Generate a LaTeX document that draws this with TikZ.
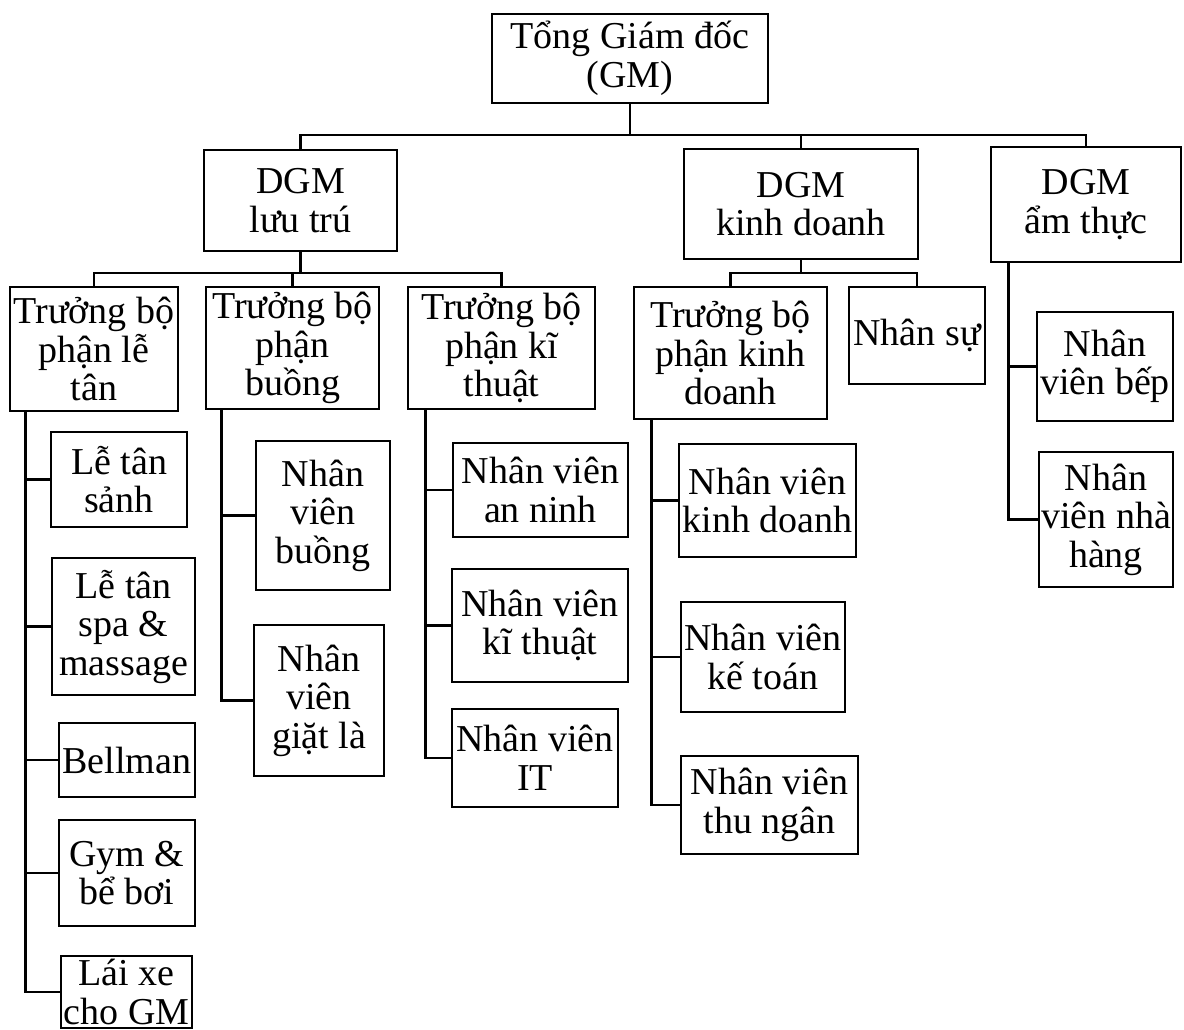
\documentclass[tikz,border=0pt]{standalone}
\usepackage{fontspec}
\setmainfont{Liberation Serif}
\usepackage{tikz}

\begin{document}
\begin{tikzpicture}[x=1pt, y=-1pt, line width=2.6pt,
    box/.style={draw, rectangle, align=center, inner sep=0pt,
        font=\fontsize{38}{38.5}\selectfont},
    wh/.style 2 args={minimum width=#1, minimum height=#2}]
    \clip (0,0) rectangle (1184,1030);
    \node[box, wh={276}{89}] (gm) at (630,58.5) {Tổng Giám đốc\\(GM)};
    \node[box, wh={193}{101}] (dgmLT) at (300.5,200.5) {DGM\\lưu trú};
    \node[box, wh={234}{110}] (dgmKD) at (801,204) {DGM\\kinh doanh};
    \node[box, wh={190}{115}] (dgmAT) at (1086,204.5) {DGM\\ẩm thực};
    \node[box, wh={168}{124}] (tbLT) at (94,349) {Trưởng bộ\\phận lễ\\tân};
    \node[box, wh={173}{122}] (tbB) at (292.5,348) {Trưởng bộ\\phận\\buồng};
    \node[box, wh={187}{122}] (tbKT) at (501.5,348) {Trưởng bộ\\phận kĩ\\thuật};
    \node[box, wh={193}{132}] (tbKD) at (730.5,353) {Trưởng bộ\\phận kinh\\doanh};
    \node[box, wh={136}{97}] (ns) at (917,335.5) {Nhân sự};
    \node[box, wh={136}{95}] (lt1) at (119,479.5) {Lễ tân\\sảnh};
    \node[box, wh={143}{137}] (lt2) at (123.5,626.5) {Lễ tân\\spa \&\\massage};
    \node[box, wh={136}{74}] (lt3) at (127,760) {Bellman};
    \node[box, wh={136}{106}] (lt4) at (127,873) {Gym \&\\bể bơi};
    \node[box, wh={131}{72}] (lt5) at (126.5,992) {Lái xe\\cho GM};
    \node[box, wh={134}{149}] (b1) at (323,515.5) {Nhân\\viên\\buồng};
    \node[box, wh={130}{151}] (b2) at (319,700.5) {Nhân\\viên\\giặt là};
    \node[box, wh={175}{94}] (k1) at (540.5,490) {Nhân viên\\an ninh};
    \node[box, wh={176}{113}] (k2) at (540,625.5) {Nhân viên\\kĩ thuật};
    \node[box, wh={166}{98}] (k3) at (535,758) {Nhân viên\\IT};
    \node[box, wh={177}{113}] (d1) at (767.5,500.5) {Nhân viên\\kinh doanh};
    \node[box, wh={164}{110}] (d2) at (763,657) {Nhân viên\\kế toán};
    \node[box, wh={177}{98}] (d3) at (769.5,805) {Nhân viên\\thu ngân};
    \node[box, wh={136}{109}] (a1) at (1105,366.5) {Nhân\\viên bếp};
    \node[box, wh={134}{135}] (a2) at (1106,519.5) {Nhân\\viên nhà\\hàng};
    \coordinate (gmbus) at (630,135);
    \coordinate (ltbus) at (300.5,273);
    \coordinate (kdbus) at (801,273);
    \draw (gm.south) -- (gmbus);
    \draw (dgmLT.north) |- (gmbus) -| (dgmAT.north);
    \draw (gmbus) -| (dgmKD.north);
    \draw (dgmLT.south) -- (ltbus);
    \draw (tbLT.north) |- (ltbus) -| (tbKT.north);
    \draw (ltbus) -| (tbB.north);
    \draw (dgmKD.south) -- (kdbus);
    \draw (tbKD.north) |- (kdbus) -| (ns.north);
    \foreach \n in {lt1,lt2,lt3,lt4,lt5}
        \draw ([xshift=17pt]tbLT.south west) |- (\n.west);
    \foreach \n in {b1,b2}
        \draw ([xshift=17pt]tbB.south west) |- (\n.west);
    \foreach \n in {k1,k2,k3}
        \draw ([xshift=19pt]tbKT.south west) |- (\n.west);
    \foreach \n in {d1,d2,d3}
        \draw ([xshift=19pt]tbKD.south west) |- (\n.west);
    \foreach \n in {a1,a2}
        \draw ([xshift=19pt]dgmAT.south west) |- (\n.west);
\end{tikzpicture}
\end{document}
